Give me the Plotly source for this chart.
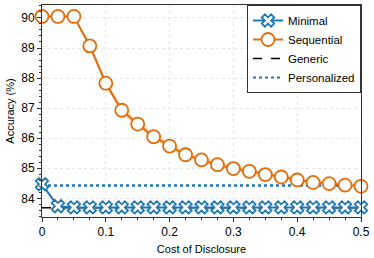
import plotly.graph_objects as go

cost = [0.0, 0.025, 0.05, 0.075, 0.1, 0.125, 0.15, 0.175, 0.2, 0.225, 0.25,
        0.275, 0.3, 0.325, 0.35, 0.375, 0.4, 0.425, 0.45, 0.475, 0.5]
sequential = [90.05, 90.05, 90.05, 89.07, 87.83, 86.93, 86.47, 86.05, 85.74, 85.45, 85.28,
              85.12, 84.99, 84.90, 84.79, 84.71, 84.61, 84.53, 84.49, 84.44, 84.40]
sequential_err = [0.04, 0.04, 0.04, 0.10, 0.12, 0.12, 0.11, 0.10, 0.10, 0.10, 0.10,
                  0.10, 0.10, 0.10, 0.10, 0.10, 0.10, 0.10, 0.10, 0.10, 0.10]
minimal = [84.47, 83.74, 83.70, 83.70, 83.70, 83.70, 83.70, 83.70, 83.70, 83.70, 83.70,
           83.70, 83.70, 83.70, 83.70, 83.70, 83.70, 83.70, 83.70, 83.70, 83.70]
generic = 83.69
personalized = 84.43

ORANGE = "#e36c0a"
BLUE = "#1f77b4"

fig = go.Figure()

# Sequential band
upper = [v + e for v, e in zip(sequential, sequential_err)]
lower = [v - e for v, e in zip(sequential, sequential_err)]
fig.add_trace(go.Scatter(x=cost + cost[::-1], y=upper + lower[::-1], fill="toself",
                         fillcolor="rgba(227,108,10,0.25)", line=dict(width=0),
                         hoverinfo="skip", showlegend=False))

fig.add_trace(go.Scatter(x=[cost[0], cost[-1]], y=[generic, generic], mode="lines",
                         line=dict(color="black", width=1.5, dash="dash"),
                         name="Generic", showlegend=False))
fig.add_trace(go.Scatter(x=[cost[0], cost[-1]], y=[personalized, personalized], mode="lines",
                         line=dict(color=BLUE, width=2.5, dash="dot"),
                         name="Personalized", showlegend=False))

fig.add_trace(go.Scatter(x=cost, y=minimal, mode="lines+markers", name="Minimal",
                         line=dict(color=BLUE, width=2),
                         marker=dict(symbol="x", size=11, color="white",
                                     line=dict(color=BLUE, width=1.8)),
                         cliponaxis=False))
fig.add_trace(go.Scatter(x=cost, y=sequential, mode="lines+markers", name="Sequential",
                         line=dict(color=ORANGE, width=2),
                         marker=dict(symbol="circle", size=13, color="white",
                                     line=dict(color=ORANGE, width=1.8)),
                         cliponaxis=False))

# legend-only entries for ordering
fig.add_trace(go.Scatter(x=[None], y=[None], mode="lines", name="Generic",
                         line=dict(color="black", width=1.5, dash="dash")))
fig.add_trace(go.Scatter(x=[None], y=[None], mode="lines", name="Personalized",
                         line=dict(color=BLUE, width=2, dash="dot")))

fig.update_layout(
    width=374, height=258,
    margin=dict(l=42, r=13, t=5, b=41, autoexpand=False),
    paper_bgcolor="white", plot_bgcolor="white",
    font=dict(family="Liberation Sans, Arial, sans-serif", size=11, color="black"),
    legend=dict(x=1, xanchor="right", y=1, yanchor="top", bgcolor="white",
                bordercolor="#333", borderwidth=1, font=dict(size=11.5),
                tracegroupgap=0, itemwidth=30),
    showlegend=True,
)
fig.update_xaxes(range=[0, 0.5], dtick=0.1, tickformat="~g", automargin=False,
                 showline=True, linecolor="#333", linewidth=1, mirror=True,
                 ticks="outside", ticklen=4, tickcolor="#333",
                 showgrid=True, gridcolor="#e6e6e6", griddash="dot", gridwidth=1,
                 zeroline=False, tickfont=dict(size=12),
                 minor=dict(dtick=0.025, ticks="outside", ticklen=2, tickcolor="#333", showgrid=False),
                 title=dict(text="Cost of Disclosure", font=dict(size=11), standoff=6))
fig.update_yaxes(range=[83.38, 90.43], dtick=1, automargin=False,
                 showline=True, linecolor="#333", linewidth=1, mirror=True,
                 ticks="outside", ticklen=4, tickcolor="#333",
                 showgrid=True, gridcolor="#e6e6e6", griddash="dot", gridwidth=1,
                 zeroline=False, tickfont=dict(size=12),
                 minor=dict(dtick=0.2, ticks="outside", ticklen=2, tickcolor="#333", showgrid=False),
                 title=dict(text="Accuracy (%)", font=dict(size=11), standoff=4))

fig.write_html("out.html", config={"displayModeBar": False},
               post_script="document.body.style.margin='0';document.body.style.overflow='hidden';")
